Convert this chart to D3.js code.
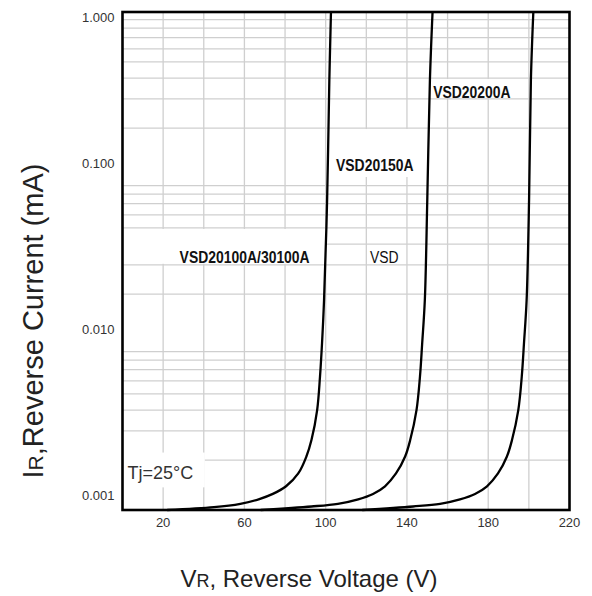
<!DOCTYPE html>
<html>
<head>
<meta charset="utf-8">
<script src="https://cdn.jsdelivr.net/npm/d3@7"></script>
<style>
  body { margin: 0; background: #fff; }
  svg { display: block; }
</style>
</head>
<body>
<div id="chart"></div>
<script>
// ---- data ----
var xTicks = [20, 60, 100, 140, 180, 220];
var yTicks = [0.001, 0.01, 0.1, 1];
var yTickLabels = ['0.001', '0.010', '0.100', '1.000'];

// VSD20100A/30100A
var v100 = [22, 45, 58, 67, 74, 80.5, 86.5, 90.5, 93, 95.8, 97.2, 98.2, 99.2, 100.7, 101.8, 102.6];
var i100 = [0.001, 0.00104, 0.00109, 0.00116, 0.00125, 0.00139, 0.00166, 0.0021, 0.00264, 0.004, 0.00635, 0.0101, 0.0184, 0.0736, 0.389, 1.0];
// VSD20150A
var v150 = [68, 93, 106, 116, 123.3, 129.2, 134.6, 139.1, 141.6, 144.7, 146.4, 147.5, 148.8, 150.0, 151.3, 152.6];
var i150 = [0.001, 0.00105, 0.00109, 0.00116, 0.00125, 0.00139, 0.00166, 0.0021, 0.00264, 0.004, 0.00635, 0.0101, 0.0184, 0.0736, 0.389, 1.0];
// VSD20200A
var v200 = [118, 143, 156.3, 166.1, 173.5, 179.4, 184.8, 189.2, 191.7, 194.8, 196.5, 197.6, 198.9, 200.1, 201.0, 202.2];
var i200 = [0.001, 0.00105, 0.00109, 0.00116, 0.00125, 0.00139, 0.00166, 0.0021, 0.00264, 0.004, 0.00635, 0.0101, 0.0184, 0.0736, 0.389, 1.0];

// annotation text and where it sits (voltage, current)
var labelText = ['VSD20200A', 'VSD20150A', 'VSD20100A/30100A', 'VSD', 'Tj=25°C'];
var labelV = [152.9, 105.1, 28.1, 121.8, 2.5];
var labelI = [0.331, 0.1198, 0.0334, 0.0334, 0.00169];
var labelBold = [true, true, true, false, false];

// white patches under the labels (voltage range, current range)
var boxV = [[151.5, 197.5], [102, 151], [0, 100.5], [0, 40.5]];
var boxI = [[0.3, 0.4], [0.1, 0.2], [0.03, 0.05], [0.00135, 0.00225]];

var width = 592, height = 596;

var x = d3.scaleLinear().domain([0, 220]).range([122.5, 569.5]);
var y = d3.scaleLog().domain([0.001, 1]).range([510, 12]);

var svg = d3.select('#chart').append('svg')
  .attr('width', width).attr('height', height)
  .style('font-family', 'Liberation Sans, Arial, sans-serif');

// grid
var grid = svg.append('g').attr('stroke', '#cfcfcf').attr('stroke-width', 1.3);
d3.range(20, 220, 20).forEach(function(v) {
  grid.append('line')
    .attr('x1', x(v)).attr('x2', x(v))
    .attr('y1', y.range()[0]).attr('y2', y.range()[1]);
});
var minor = [];
[0.001, 0.01, 0.1].forEach(function(dec) {
  d3.range(2, 10).forEach(function(m) { minor.push(dec * m); });
});
minor.forEach(function(v) {
  grid.append('line')
    .attr('x1', x.range()[0]).attr('x2', x.range()[1])
    .attr('y1', y(v)).attr('y2', y(v));
});

// label backgrounds
boxV.forEach(function(bv, k) {
  svg.append('rect')
    .attr('x', x(bv[0]))
    .attr('y', y(boxI[k][1]) + 1)
    .attr('width', x(bv[1]) - x(bv[0]))
    .attr('height', y(boxI[k][0]) - y(boxI[k][1]) - 2)
    .attr('fill', '#fff');
});

// curves
var line = d3.line()
  .x(function(d) { return x(d[0]); })
  .y(function(d) { return y(d[1]); })
  .curve(d3.curveCatmullRom.alpha(0.5));

[[v100, i100], [v150, i150], [v200, i200]].forEach(function(s) {
  svg.append('path')
    .datum(d3.zip(s[0], s[1]))
    .attr('fill', 'none')
    .attr('stroke', '#000')
    .attr('stroke-width', 2.3)
    .attr('d', line);
});

// frame
svg.append('rect')
  .attr('x', x.range()[0]).attr('y', y.range()[1])
  .attr('width', x.range()[1] - x.range()[0])
  .attr('height', y.range()[0] - y.range()[1])
  .attr('fill', 'none').attr('stroke', '#000').attr('stroke-width', 2.6);

// tick labels
svg.append('g').selectAll('text')
  .data(xTicks).enter().append('text')
  .attr('x', function(d) { return x(d); })
  .attr('y', y.range()[0] + 17)
  .attr('text-anchor', 'middle')
  .attr('font-size', 13).attr('fill', '#333')
  .text(function(d) { return d; });

svg.append('g').selectAll('text')
  .data(yTicks).enter().append('text')
  .attr('x', x.range()[0] - 8)
  .attr('y', function(d) { return Math.max(y(d) - 10, y(1) + 10); })
  .attr('text-anchor', 'end')
  .attr('font-size', 13).attr('fill', '#333')
  .text(function(d, i) { return yTickLabels[i]; });

// annotations (the source uses a condensed face, so squeeze horizontally)
labelText.forEach(function(t, k) {
  var narrow = k < 4;
  svg.append('text')
    .attr('transform', 'translate(' + x(labelV[k]) + ',' + y(labelI[k]) + ')' +
      (narrow ? ' scale(0.82,1)' : ''))
    .attr('dy', '0.36em')
    .attr('font-size', k === 4 ? 18 : 17)
    .attr('font-weight', labelBold[k] ? 'bold' : 'normal')
    .attr('fill', k === 4 ? '#333' : '#111')
    .text(t);
});

// axis titles
var xt = svg.append('text')
  .attr('x', 309).attr('y', 587)
  .attr('text-anchor', 'middle')
  .attr('font-size', 24).attr('fill', '#222');
xt.append('tspan').text('V');
xt.append('tspan').attr('font-size', 18).text('R');
xt.append('tspan').text(', Reverse Voltage (V)');

var yt = svg.append('text')
  .attr('transform', 'translate(43,321) rotate(-90)')
  .attr('text-anchor', 'middle')
  .attr('font-size', 29).attr('fill', '#222');
yt.append('tspan').text('I');
yt.append('tspan').attr('font-size', 21).text('R');
yt.append('tspan').text(',Reverse Current (mA)');
</script>
</body>
</html>
